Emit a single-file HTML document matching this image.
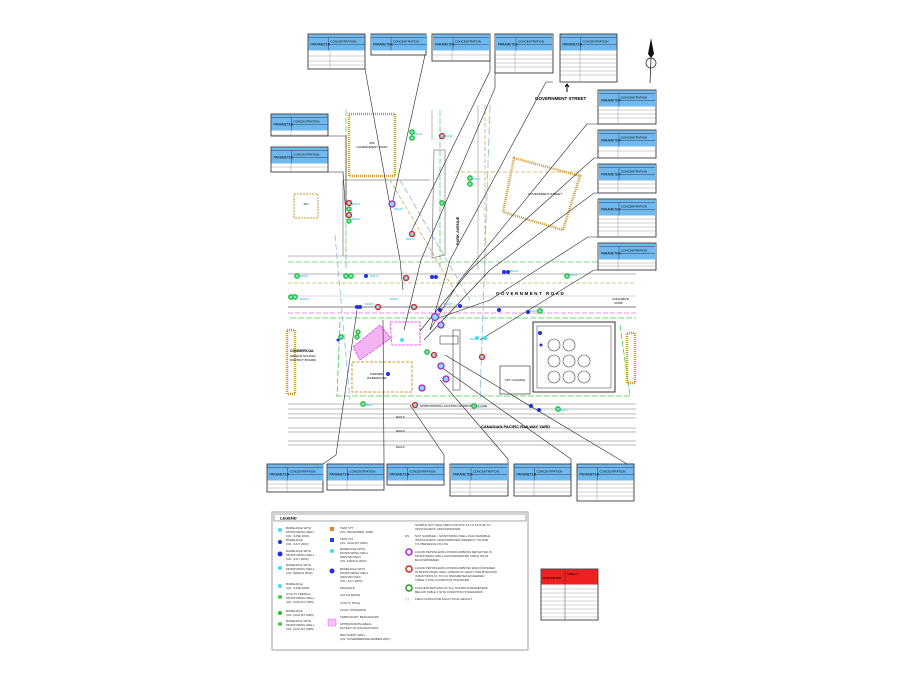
<!DOCTYPE html>
<html><head><meta charset="utf-8"><style>
body{margin:0;background:#fff;width:900px;height:677px;overflow:hidden}
svg{display:block}
text{font-family:"Liberation Sans",sans-serif}
</style></head><body>
<svg width="900" height="677" viewBox="0 0 900 677" xmlns="http://www.w3.org/2000/svg">
<defs>
<g id="t2">
<rect x="0" y="0" width="56" height="16" fill="#6fb9ee"/>
<line x1="0" y1="3" x2="56" y2="3" stroke="#224" stroke-width="0.4"/>
<line x1="20" y1="3" x2="20" y2="16" stroke="#224" stroke-width="0.4"/>
<line x1="20" y1="10" x2="56" y2="10" stroke="#224" stroke-width="0.4"/>
<text x="2" y="11" font-size="3.2">PARAMETER</text>
<text x="22" y="8" font-size="3">CONCENTRATION</text>
</g>
</defs>

<!-- ===== MAP LINEWORK ===== -->
<g fill="none" stroke-width="0.8">
<!-- Government road lines -->
<line x1="288" y1="274" x2="636" y2="274" stroke="#9a9a9a"/>
<line x1="288" y1="283" x2="636" y2="283" stroke="#c8b060" stroke-dasharray="4 2"/>
<line x1="288" y1="296" x2="636" y2="296" stroke="#ccc"/>
<line x1="288" y1="307" x2="636" y2="307" stroke="#555"/>
<line x1="288" y1="313" x2="636" y2="313" stroke="#e070e0" stroke-dasharray="5 2"/>
<line x1="290" y1="318" x2="636" y2="318" stroke="#44cc44" stroke-dasharray="6 2"/>
<line x1="288" y1="262" x2="636" y2="262" stroke="#60d060" stroke-dasharray="6 2"/>
<line x1="288" y1="256" x2="430" y2="256" stroke="#aaa"/>
<!-- rails -->
<g stroke="#777" stroke-width="0.6">
<line x1="288" y1="404" x2="636" y2="404"/><line x1="288" y1="409" x2="636" y2="409"/>
<line x1="288" y1="414" x2="636" y2="414"/><line x1="288" y1="418" x2="636" y2="418"/>
<line x1="288" y1="428" x2="636" y2="428"/><line x1="288" y1="432" x2="636" y2="432"/>
<line x1="288" y1="441" x2="636" y2="441"/><line x1="288" y1="445" x2="636" y2="445"/>
</g>
<line x1="336" y1="396" x2="630" y2="396" stroke="#44cc44" stroke-dasharray="6 2"/>
<!-- site boundary -->
<polyline points="340,322 337,396" stroke="#44cc44" stroke-dasharray="6 2"/>
<polyline points="620,325 630,396" stroke="#44cc44" stroke-dasharray="6 2"/>
<!-- Park avenue verticals -->
<line x1="346" y1="110" x2="346" y2="270" stroke="#60d060" stroke-dasharray="6 2"/>
<line x1="440" y1="110" x2="440" y2="270" stroke="#60d060" stroke-dasharray="6 2"/>
<line x1="432" y1="110" x2="432" y2="140" stroke="#aaa"/>
<line x1="478" y1="105" x2="478" y2="270" stroke="#aaa"/>
<line x1="485" y1="105" x2="485" y2="280" stroke="#c8b060" stroke-dasharray="4 2"/>
<line x1="490" y1="105" x2="480" y2="400" stroke="#8bd" stroke-dasharray="8 3"/>
<path d="M434,150 L445,150 L445,255 L432,258 Z" stroke="#888"/>
<path d="M343,180 L430,180 M343,180 L343,256" stroke="#888"/>
<line x1="390" y1="180" x2="460" y2="300" stroke="#c8b060" stroke-dasharray="4 2"/>
<line x1="400" y1="180" x2="470" y2="300" stroke="#8bd" stroke-dasharray="6 3"/>
<line x1="335" y1="235" x2="350" y2="400" stroke="#8bd" stroke-dasharray="6 3"/>
<line x1="455" y1="172" x2="580" y2="172" stroke="#c8b060" stroke-dasharray="4 2"/>
</g>

<!-- buildings -->
<rect x="349" y="114" width="46" height="62" fill="none" stroke="#c99a30" stroke-width="2.5" stroke-dasharray="1 1"/>
<text x="372" y="144" font-size="3" text-anchor="middle">265</text>
<text x="372" y="148" font-size="3" text-anchor="middle">GOVERNMENT ROAD</text>
<polygon points="514,158 580,176 563,230 503,212" fill="none" stroke="#c99a30" stroke-width="2.5" stroke-dasharray="1 1"/>
<text x="545" y="195" font-size="3" text-anchor="middle">GOVERNMENT STREET</text>
<rect x="294" y="194" width="24" height="24" fill="none" stroke="#c99a30" stroke-width="1" stroke-dasharray="2 1"/>
<text x="306" y="205" font-size="3" text-anchor="middle">267</text>
<rect x="287" y="330" width="8" height="64" fill="none" stroke="#c99a30" stroke-width="2.5" stroke-dasharray="1 1"/>
<rect x="627" y="333" width="8" height="50" fill="none" stroke="#c99a30" stroke-width="2.5" stroke-dasharray="1 1"/>
<rect x="352" y="362" width="60" height="30" fill="none" stroke="#c99a30" stroke-width="1" stroke-dasharray="3 1.5"/>
<text x="370" y="375" font-size="3">FORMER</text><text x="367" y="379" font-size="3">WAREHOUSE</text>
<polygon points="353,347 380,325 391,338 360,360" fill="#f4b4f4" stroke="#e040e0" stroke-width="0.8" stroke-dasharray="3 1"/>
<polygon points="390,322 420,322 420,345 392,345" fill="none" stroke="#e040e0" stroke-width="0.8" stroke-dasharray="3 1"/>
<!-- tank farm -->
<rect x="533" y="322" width="82" height="70" fill="none" stroke="#333" stroke-width="1"/>
<rect x="537" y="326" width="74" height="62" fill="none" stroke="#555" stroke-width="0.6"/>
<g fill="none" stroke="#444" stroke-width="0.6">
<circle cx="554" cy="345" r="6"/><circle cx="569" cy="345" r="6"/>
<circle cx="554" cy="361" r="6"/><circle cx="569" cy="361" r="6"/><circle cx="584" cy="361" r="6"/>
<circle cx="554" cy="377" r="6"/><circle cx="569" cy="377" r="6"/><circle cx="584" cy="377" r="6"/>
</g>
<rect x="500" y="366" width="30" height="28" fill="none" stroke="#444" stroke-width="0.7"/>
<text x="515" y="381" font-size="3" text-anchor="middle">CPT LOADING</text>
<rect x="453" y="330" width="7" height="60" fill="none" stroke="#444" stroke-width="0.6"/>
<rect x="440" y="336" width="18" height="8" fill="none" stroke="#444" stroke-width="0.6"/>

<!-- road labels -->
<text x="496" y="295" font-size="4.5" font-weight="bold" letter-spacing="1.5">GOVERNMENT ROAD</text>
<text x="535" y="100" font-size="4.5" font-weight="bold">GOVERNMENT STREET</text>
<text x="481" y="428" font-size="4" font-weight="bold">CANADIAN PACIFIC RAILWAY YARD</text>
<text x="459" y="245" font-size="4" font-weight="bold" transform="rotate(-90 459 245)">PARK AVENUE</text>
<text x="290" y="352" font-size="3.5" font-weight="bold">COMMERCIAL</text>
<text x="290" y="357" font-size="3">(REGINA SCHOOL</text>
<text x="290" y="361" font-size="3">DISTRICT BOARD)</text>
<text x="287" y="357" font-size="3" display="none">.</text>
<text x="420" y="407" font-size="3">APPROXIMATE LOCATION OF PROPERTY LINE</text>
<text x="396" y="418" font-size="3">RAILS</text><text x="396" y="432" font-size="3">RAILS</text><text x="396" y="448" font-size="3">RAILS</text>
<text x="612" y="300" font-size="3">CONCRETE</text><text x="614" y="304" font-size="3">CURB</text>
<path d="M567,92 L567,85 M565,87 L567,84 L569,87" stroke="#000" stroke-width="1" fill="none"/>

<!-- north arrow -->
<polygon points="651,38 654,54 651,58 648,54" fill="#111"/>
<circle cx="651" cy="63" r="5" fill="none" stroke="#111" stroke-width="0.7"/>
<line x1="651" y1="58" x2="650" y2="83" stroke="#111" stroke-width="0.7"/>

<!-- leader lines -->
<g stroke="#222" stroke-width="0.6" fill="none">
<polyline points="365,69 400,260 403,290"/>
<polyline points="425,55 392,205"/>
<polyline points="490,61 490,71 411,232"/>
<polyline points="495,73 495,88 421,260 404,330"/>
<polyline points="553,82 546,82 450,260 430,330"/>
<polyline points="598,124 587,124 460,280 430,330"/>
<polyline points="598,158 594,158 470,270 420,331"/>
<polyline points="598,193 594,193 490,270 424,340"/>
<polyline points="598,237 588,237 490,300 433,320"/>
<polyline points="598,270 594,270 480,340"/>
<polyline points="328,136 346,136 346,205"/>
<polyline points="328,172 343,172 346,217"/>
<polyline points="323,464 336,455 357,310"/>
<polyline points="384,464 384,460 383,320"/>
<polyline points="444,464 444,455 410,405"/>
<polyline points="508,464 508,459 440,380"/>
<polyline points="571,464 571,459 441,367"/>
<polyline points="634,464 627,464 445,355"/>
</g>

<!-- map symbols -->
<g stroke-width="1.3" fill="#7de0e8">
<circle cx="412" cy="234" r="2.5" stroke="#e02020"/>
<circle cx="442" cy="136" r="2.5" stroke="#e02020"/>
<circle cx="349" cy="203" r="2.5" stroke="#e02020"/>
<circle cx="349" cy="215" r="2.5" stroke="#e02020"/>
<circle cx="392" cy="204" r="3" stroke="#b020d0"/>
<circle cx="435" cy="317" r="3.5" stroke="#b020d0"/>
<circle cx="441" cy="325" r="3" stroke="#b020d0"/>
<circle cx="441" cy="366" r="3" stroke="#b020d0"/>
<circle cx="446" cy="379" r="3" stroke="#b020d0"/>
<circle cx="422" cy="388" r="3" stroke="#b020d0"/>
<circle cx="434" cy="355" r="2.5" stroke="#e02020"/>
<circle cx="482" cy="357" r="2.5" stroke="#e02020"/>
<circle cx="406" cy="278" r="2.5" stroke="#e02020"/>
<circle cx="378" cy="307" r="2.5" stroke="#e02020"/>
<circle cx="414" cy="307" r="2.5" stroke="#e02020"/>
<circle cx="415" cy="405" r="2.5" stroke="#e02020"/>
</g>
<g stroke="#20c020" stroke-width="1.3" fill="#7de0e8">
<circle cx="412" cy="132" r="2.2"/><circle cx="412" cy="138" r="2.2"/>
<circle cx="470" cy="178" r="2.2"/><circle cx="470" cy="184" r="2.2"/>
<circle cx="442" cy="203" r="2.2"/><circle cx="349" cy="209" r="2"/><circle cx="349" cy="221" r="2"/>
<circle cx="297" cy="276" r="2.2"/><circle cx="346" cy="276" r="2.2"/><circle cx="351" cy="276" r="2.2"/>
<circle cx="291" cy="297" r="2.2"/><circle cx="295" cy="297" r="2.2"/>
<circle cx="341" cy="337" r="2.2"/><circle cx="358" cy="332" r="2"/><circle cx="357" cy="337" r="2"/>
<circle cx="427" cy="352" r="2.2"/><circle cx="567" cy="276" r="2.2"/><circle cx="540" cy="311" r="2.2"/>
<circle cx="363" cy="404" r="2.2"/><circle cx="474" cy="406" r="2.2"/><circle cx="558" cy="409" r="2.2"/>
</g>
<g fill="#2030e0">
<circle cx="366" cy="276" r="2"/><circle cx="357" cy="307" r="2"/><circle cx="360" cy="307" r="2"/>
<circle cx="432" cy="277" r="2"/><circle cx="436" cy="277" r="2"/><circle cx="440" cy="310" r="2"/>
<circle cx="460" cy="306" r="2"/><circle cx="499" cy="310" r="2"/><circle cx="528" cy="312" r="2"/>
<circle cx="504" cy="272" r="2"/><circle cx="508" cy="272" r="2"/><circle cx="540" cy="333" r="2"/>
<circle cx="388" cy="374" r="2"/><circle cx="531" cy="406" r="2"/><circle cx="539" cy="410" r="2"/>
<circle cx="338" cy="340" r="1.5"/><circle cx="541" cy="345" r="1.5"/>
</g>
<g fill="#40e0f0"><circle cx="402" cy="340" r="2"/><circle cx="477" cy="338" r="2"/><circle cx="485" cy="338" r="2"/></g>
<g font-size="2.8" fill="#20b0d0">
<text x="444" y="137">BH118</text><text x="414" y="135">BH116</text><text x="472" y="180">BH117</text>
<text x="352" y="205">BH121</text><text x="352" y="220">BH122</text><text x="394" y="210">BH120</text>
<text x="406" y="240">BH123</text><text x="300" y="277">BH114</text><text x="370" y="277">BH112</text>
<text x="510" y="272">BH110</text><text x="569" y="276">BH111</text><text x="300" y="300">BH109</text>
<text x="365" y="305">BH105</text><text x="390" y="300">BH102</text><text x="444" y="305">BH106</text>
<text x="530" y="312">BH108</text><text x="470" y="340">BH2</text><text x="366" y="406">BH11</text>
<text x="476" y="408">BH13</text><text x="560" y="411">BH14</text>
</g>

<!-- ===== DATA TABLES ===== -->
<g stroke="#222" stroke-width="0.8" fill="#fff">
<!-- top -->
<rect x="308" y="34" width="57" height="35"/><rect x="371" y="34" width="55" height="21"/>
<rect x="432" y="34" width="58" height="27"/><rect x="495" y="34" width="58" height="39"/>
<rect x="560" y="34" width="57" height="48"/>
<!-- left -->
<rect x="271" y="114" width="57" height="22"/><rect x="271" y="147" width="57" height="25"/>
<!-- right -->
<rect x="598" y="90" width="58" height="34"/><rect x="598" y="130" width="58" height="28"/>
<rect x="598" y="164" width="58" height="29"/><rect x="598" y="199" width="58" height="38"/>
<rect x="598" y="243" width="58" height="27"/>
<!-- bottom -->
<rect x="267" y="464" width="56" height="28"/><rect x="327" y="464" width="57" height="26"/>
<rect x="387" y="464" width="57" height="21"/><rect x="450" y="464" width="58" height="32"/>
<rect x="514" y="464" width="57" height="32"/><rect x="577" y="464" width="57" height="37"/>
</g>
<g>
<use href="#t2" x="308.5" y="34.5"/><use href="#t2" x="371" y="34.5" transform="scale(1)"/>
<use href="#t2" x="433" y="34.5"/><use href="#t2" x="496" y="34.5"/><use href="#t2" x="560.5" y="34.5"/>
<use href="#t2" x="271.5" y="114.5"/><use href="#t2" x="271.5" y="147.5"/>
<use href="#t2" x="599" y="90.5"/><use href="#t2" x="599" y="130.5"/><use href="#t2" x="599" y="164.5"/>
<use href="#t2" x="599" y="199.5"/><use href="#t2" x="599" y="243.5"/>
<use href="#t2" x="267.5" y="464.5"/><use href="#t2" x="327.5" y="464.5"/><use href="#t2" x="387.5" y="464.5"/>
<use href="#t2" x="451" y="464.5"/><use href="#t2" x="514.5" y="464.5"/><use href="#t2" x="577.5" y="464.5"/>
</g>
<!-- data row grids -->
<g stroke="#666" stroke-width="0.3">
<path d="M308,56h57M308,61h57M308,65h57M330,50v19"/>
<path d="M432,55h58M452,50v11"/>
<path d="M495,55h58M495,59h58M495,63h58M495,67h58M515,50v23"/>
<path d="M560,55h57M560,59h57M560,63h57M560,67h57M560,71h57M560,75h57M580,50v32"/>
<path d="M271,135h57M291,130v6"/><path d="M271,167h57M291,163v9"/>
<path d="M598,110h58M598,114h58M598,118h58M618,106v18"/>
<path d="M598,151h58M618,146v12"/>
<path d="M598,184h58M598,188h58M618,180v13"/>
<path d="M598,219h58M598,223h58M598,227h58M598,231h58M618,215v22"/>
<path d="M598,263h58M598,266h58M618,259v11"/>
<path d="M267,484h56M267,488h56M287,480v12"/><path d="M327,485h57M347,480v10"/>
<path d="M450,484h58M450,488h58M450,492h58M470,480v16"/>
<path d="M514,484h57M514,488h57M514,492h57M534,480v16"/>
<path d="M577,484h57M577,488h57M577,492h57M577,496h57M597,480v21"/>
</g>

<!-- ===== LEGEND ===== -->
<rect x="272" y="512" width="256" height="138" fill="#fff" stroke="#888" stroke-width="0.8"/>
<rect x="274" y="514" width="252" height="7" fill="#fff" stroke="#555" stroke-width="0.5"/>
<text x="280" y="519.5" font-size="4" font-weight="bold">LEGEND</text>
<g font-size="3" fill="#333">
<text x="286" y="529">BOREHOLE WITH</text><text x="286" y="533">MONITORING WELL</text><text x="286" y="537">(UN. JUNE 2003)</text>
<text x="286" y="541">BOREHOLE</text><text x="286" y="545">(UN. JULY 2002)</text>
<text x="286" y="552">BOREHOLE WITH</text><text x="286" y="556">MONITORING WELL</text><text x="286" y="560">(UN. JULY 2002)</text>
<text x="286" y="566">BOREHOLE WITH</text><text x="286" y="570">MONITORING WELL</text><text x="286" y="574">(UN. MARCH 2002)</text>
<text x="286" y="585">BOREHOLE</text><text x="286" y="589">(UN. JUNE 2003)</text>
<text x="286" y="595">UTILITY TRENCH</text><text x="286" y="599">MONITORING WELL</text><text x="286" y="603">(UN. AUGUST 2005)</text>
<text x="286" y="612">BOREHOLE</text><text x="286" y="616">(UN. AUGUST 2005)</text>
<text x="286" y="622">BOREHOLE WITH</text><text x="286" y="626">MONITORING WELL</text><text x="286" y="630">(UN. AUGUST 2005)</text>
<text x="340" y="529">TEST PIT</text><text x="340" y="533">(UN. DECEMBER, 2005)</text>
<text x="340" y="540">TEST PIT</text><text x="340" y="544">(UN. AUGUST 2006)</text>
<text x="340" y="550">BOREHOLE WITH</text><text x="340" y="554">MONITORING WELL</text><text x="340" y="558">(DESTROYED)</text><text x="340" y="562">(UN. MARCH 2002)</text>
<text x="340" y="570">BOREHOLE WITH</text><text x="340" y="574">MONITORING WELL</text><text x="340" y="578">(DESTROYED)</text><text x="340" y="582">(UN. JULY 2002)</text>
<text x="340" y="589">MANHOLE</text><text x="340" y="596">CATCH BASIN</text><text x="340" y="604">UTILITY POLE</text>
<text x="340" y="611">LIGHT STANDARD</text><text x="340" y="618">TEMPORARY BENCHMARK</text>
<text x="340" y="625">APPROXIMATE AREAL</text><text x="340" y="629">EXTENT OF EXCAVATIONS</text>
<text x="340" y="636">RECOVERY WELL</text><text x="340" y="640">(UN. NOVEMBER/DECEMBER 2007)</text>
<text x="415" y="526">SAMPLE NOT ANALYZED FOR PHC F2 TO F4 DUE TO</text><text x="415" y="530">INSUFFICIENT GROUNDWATER</text>
<text x="405" y="537">NS</text><text x="415" y="537">NOT SAMPLED - MONITORING WELL INACCESSIBLE,</text><text x="415" y="541">INSUFFICIENT GROUNDWATER PRESENT, OR DUE</text><text x="415" y="545">TO PRESENCE OF LPH</text>
<text x="415" y="553">LIQUID PETROLEUM HYDROCARBONS DETECTED IN</text><text x="415" y="557">MONITORING WELL (GROUNDWATER TABLE OR IN</text><text x="415" y="561">BACKSWIMMER)</text>
<text x="415" y="569">LIQUID PETROLEUM HYDROCARBONS ENCOUNTERED</text><text x="415" y="573">IN MONITORING WELL AND/OR AT LEAST ONE BTEX/PHC</text><text x="415" y="577">(FRACTIONS F1 TO F4) PARAMETER EXCEEDED</text><text x="415" y="581">TABLE 3 SITE CONDITION STANDARD</text>
<text x="415" y="589">CONCENTRATIONS OF ALL TESTED PARAMETERS</text><text x="415" y="593">BELOW TABLE 3 SITE CONDITION STANDARDS</text>
<text x="406" y="600">( )</text><text x="415" y="600">FIELD DUPLICATE ANALYTICAL RESULT</text>
</g>
<g>
<circle cx="280" cy="530" r="2" fill="#40e0f0"/><circle cx="280" cy="542" r="2" fill="#2030e0"/>
<circle cx="280" cy="554" r="2.5" fill="#2030e0"/><circle cx="280" cy="568" r="2" fill="#40e0f0"/>
<circle cx="280" cy="586" r="2" fill="#40e0f0"/><circle cx="280" cy="597" r="2" fill="#40d040"/>
<circle cx="280" cy="613" r="2" fill="#20c020"/><circle cx="280" cy="624" r="2" fill="#40d040"/>
<rect x="330" y="527" width="4" height="4" fill="#f08030"/><rect x="330" y="538" width="4" height="4" fill="#2040e0"/>
<circle cx="332" cy="551" r="2" fill="#40e0f0"/><circle cx="332" cy="571" r="2.5" fill="#2030e0"/>
<rect x="328" y="619" width="8" height="7" fill="#f8c0f8" stroke="#e040e0" stroke-width="0.6" stroke-dasharray="2 1"/>
<circle cx="409" cy="552" r="3" fill="none" stroke="#b020d0" stroke-width="1.5"/>
<circle cx="409" cy="569" r="3" fill="none" stroke="#e02020" stroke-width="1.5"/>
<circle cx="409" cy="588" r="3" fill="none" stroke="#20a020" stroke-width="1.5"/>
</g>

<!-- red standards table -->
<rect x="541" y="569" width="57" height="51" fill="#fff" stroke="#222" stroke-width="0.8"/>
<rect x="541.5" y="569.5" width="56" height="15" fill="#ee2020"/>
<line x1="565" y1="569" x2="565" y2="620" stroke="#222" stroke-width="0.4"/>
<text x="543" y="579" font-size="3">PARAMETER</text><text x="567" y="575" font-size="2.8">TABLE 3</text>
<g stroke="#777" stroke-width="0.3"><path d="M541,589h57M541,593h57M541,597h57M541,601h57M541,605h57M541,609h57M541,613h57M541,617h57"/></g>
</svg>
</body></html>
